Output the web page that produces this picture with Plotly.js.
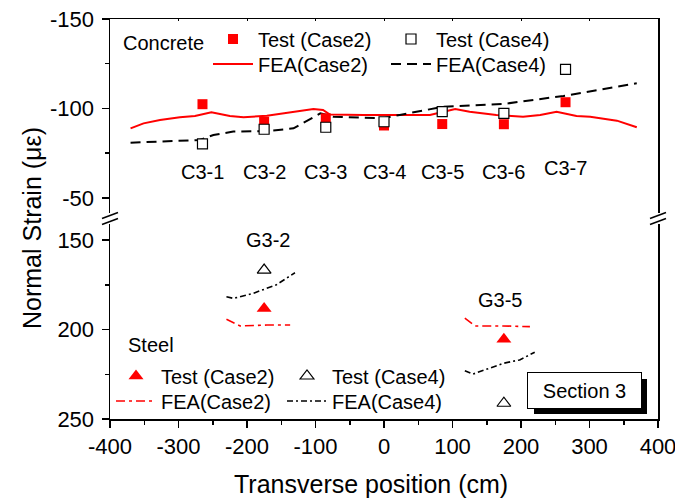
<!DOCTYPE html>
<html>
<head>
<meta charset="utf-8">
<script src="https://cdn.plot.ly/plotly-3.0.1.min.js"></script>
<style>html,body{margin:0;padding:0;background:#fff;}#chart{width:675px;height:500px;}</style>
</head>
<body>
<div id="chart"></div>
<script>
// ---- Data ----
var gaugeX      = [-265, -175, -85, 0, 85, 175, 265];
var gaugeNames  = ['C3-1', 'C3-2', 'C3-3', 'C3-4', 'C3-5', 'C3-6', 'C3-7'];
var gaugeLabelY = [-64.5, -64.5, -64.5, -64.5, -64.5, -64.5, -66.8];
var concTest2   = [-102.4, -92.6, -94.5, -90.5, -91.3, -91.2, -103.5];
var concTest4   = [-80.2, -88.4, -89.5, -92.6, -98.2, -97.3, -121.9];

var feaC2X = [-370, -351, -327, -298, -276, -252, -225, -205, -171, -132, -103, -89, -79, -30, 18, 67, 104, 125, 164, 203, 228, 252, 281, 301, 340, 369];
var feaC2Y = [-88.9, -91.7, -93.6, -95.1, -95.8, -97.9, -95.8, -95.1, -96.0, -97.9, -99.7, -99.2, -96.6, -96.4, -96.4, -96.4, -99.7, -98.2, -96.4, -95.4, -96.4, -98.2, -95.8, -95.4, -93.2, -89.5];
var feaC4X = [-370, -269, -249, -220, -171, -132, -93, -74, -1, 23, 87, 174, 262, 369];
var feaC4Y = [-80.9, -82.4, -85.2, -87.1, -87.4, -88.9, -97.3, -95.4, -94.5, -96.4, -101.0, -102.5, -107.0, -114.1];

var steelX      = [-175, 175];
var steelNames  = ['G3-2', 'G3-5'];
var steelLabelX = [-169, 169];
var steelLabelY = [150, 183.5];
var steelTest2  = [188.2, 205.5];
var steelTest4  = [166.8, 241.2];

var feaS2X = [-230, -210, -171, -137, null, 118, 133, 174, 213];
var feaS2Y = [194.3, 198.0, 197.5, 197.5, null, 193.7, 198.0, 198.0, 198.4];
var feaS4X = [-230, -220, -191, -157, -130, null, 118, 130, 174, 198, 220];
var feaS4Y = [181.7, 182.6, 179.8, 175.0, 168.3, null, 223.0, 224.9, 218.9, 217.0, 212.7];

var xTickVals = [-400, -300, -200, -100, 0, 100, 200, 300, 400];
var xTickText = ['-400', '-300', '-200', '-100', '0', '100', '200', '300', '400'];
var yTopVals  = [-150, -100, -50];
var yTopText  = ['-150', '-100', '-50'];
var yBotVals  = [150, 200, 250];
var yBotText  = ['150', '200', '250'];

// ---- pixel helpers for paper placement (plot area 110..658 x 19..419) ----
var L = 110, R = 17, T = 19, B = 81, W = 675, H = 500;
var PW = W - L - R, PH = H - T - B;
function xp(px) { return (px - L) / PW; }
function yp(py) { return (H - B - py) / PH; }

var FONT = 'Liberation Sans, Arial, Helvetica, sans-serif';

var traces = [
  { x: feaC2X, y: feaC2Y, xaxis: 'x2', yaxis: 'y', mode: 'lines', name: 'FEA(Case2)',
    line: { color: '#ff0000', width: 2 }, legend: 'legend2' },
  { x: feaC4X, y: feaC4Y, xaxis: 'x2', yaxis: 'y', mode: 'lines', name: 'FEA(Case4)',
    line: { color: '#000000', width: 2, dash: '10px,6px' }, legend: 'legend2' },
  { x: gaugeX, y: concTest2, xaxis: 'x2', yaxis: 'y', mode: 'markers', name: 'Test (Case2)',
    marker: { symbol: 'square', size: 10, color: '#ff0000' }, legend: 'legend' },
  { x: gaugeX, y: concTest4, xaxis: 'x2', yaxis: 'y', mode: 'markers', name: 'Test (Case4)',
    marker: { symbol: 'square', size: 10, color: '#ffffff', line: { color: '#000000', width: 1.2 } }, legend: 'legend' },

  { x: feaS2X, y: feaS2Y, xaxis: 'x', yaxis: 'y2', mode: 'lines', name: 'FEA(Case2)',
    line: { color: '#ff0000', width: 1.6, dash: '9px,4px,3px,4px' }, legend: 'legend4', connectgaps: false },
  { x: feaS4X, y: feaS4Y, xaxis: 'x', yaxis: 'y2', mode: 'lines', name: 'FEA(Case4)',
    line: { color: '#000000', width: 1.6, dash: '6px,3px,2px,3px' }, legend: 'legend4', connectgaps: false },
  { x: steelX, y: steelTest2, xaxis: 'x', yaxis: 'y2', mode: 'markers', name: 'Test (Case2)',
    marker: { symbol: 'triangle-up', size: 13, color: '#ff0000' }, legend: 'legend3' },
  { x: steelX, y: steelTest4, xaxis: 'x', yaxis: 'y2', mode: 'markers', name: 'Test (Case4)',
    marker: { symbol: 'triangle-up', size: 12, color: '#ffffff', line: { color: '#000000', width: 1.2 } }, legend: 'legend3' }
];

var TXT = { family: FONT, size: 20, color: '#000' };
var annotations = [];
for (var i = 0; i < gaugeNames.length; i++) {
  annotations.push({ xref: 'x2', yref: 'y', x: gaugeX[i], y: gaugeLabelY[i], text: gaugeNames[i],
    showarrow: false, font: TXT });
}
for (var j = 0; j < steelNames.length; j++) {
  annotations.push({ xref: 'x', yref: 'y2', x: steelLabelX[j], y: steelLabelY[j], text: steelNames[j],
    showarrow: false, font: TXT });
}
annotations.push({ xref: 'paper', yref: 'paper', x: xp(121), y: yp(43), xanchor: 'left', yanchor: 'middle',
  text: 'Concrete', showarrow: false, font: TXT });
annotations.push({ xref: 'paper', yref: 'paper', x: xp(126), y: yp(345), xanchor: 'left', yanchor: 'middle',
  text: 'Steel', showarrow: false, font: TXT });
annotations.push({ xref: 'paper', yref: 'paper', x: xp(584.5), y: yp(390.5), xanchor: 'center', yanchor: 'middle',
  text: 'Section 3', showarrow: false, width: 111, height: 33, bgcolor: '#ffffff',
  bordercolor: '#000000', borderwidth: 1, font: TXT });
annotations.push({ xref: 'paper', yref: 'paper', x: xp(32), y: yp(228), xanchor: 'center', yanchor: 'middle',
  text: 'Normal Strain (\u03bc\u03b5)', textangle: -90, showarrow: false, font: { family: FONT, size: 25, color: '#000' } });
annotations.push({ xref: 'paper', yref: 'paper', x: xp(371), y: yp(484), xanchor: 'center', yanchor: 'middle',
  text: 'Transverse position (cm)', showarrow: false, font: { family: FONT, size: 25, color: '#000' } });

function slash(cx, cy) {
  return { type: 'line', xref: 'paper', yref: 'paper', x0: xp(cx - 8), y0: yp(cy + 3), x1: xp(cx + 8), y1: yp(cy - 3),
    line: { color: '#000', width: 1.5 } };
}
var shapes = [
  slash(110, 215.5), slash(110, 221.5), slash(658, 215.5), slash(658, 221.5),
  { type: 'rect', xref: 'paper', yref: 'paper', x0: xp(534), x1: xp(647), y0: yp(414), y1: yp(379),
    fillcolor: '#000000', line: { width: 0 }, layer: 'above' }
];

var axFont = { family: FONT, size: 22, color: '#000' };
var legCommon = { orientation: 'h', xanchor: 'left', yanchor: 'middle', itemwidth: 40, bgcolor: 'rgba(0,0,0,0)',
  borderwidth: 0, font: { family: FONT, size: 20, color: '#000' }, itemclick: false, itemdoubleclick: false,
  entrywidthmode: 'pixels' };
function leg(px, py, ew) { var o = Object.assign({}, legCommon); o.x = xp(px); o.y = yp(py); o.entrywidth = ew; return o; }

var layout = {
  width: W, height: H,
  margin: { l: L, r: R, t: T, b: B, pad: 0 },
  paper_bgcolor: '#ffffff', plot_bgcolor: 'rgba(0,0,0,0)',
  font: { family: FONT, color: '#000' },
  showlegend: true,
  xaxis: { anchor: 'y2', domain: [0, 1], range: [-400, 400], tickvals: xTickVals, ticktext: xTickText,
    ticks: 'outside', ticklen: 7, tickwidth: 1.5, tickcolor: '#000', showline: true, linewidth: 1.5, linecolor: '#000',
    showgrid: false, zeroline: false, tickfont: axFont, ticklabeloverflow: 'allow',
    minor: { dtick: 50, tick0: 0, ticks: 'outside', ticklen: 4, tickwidth: 1.5, tickcolor: '#000', showgrid: false } },
  xaxis2: { anchor: 'y', side: 'top', matches: 'x', range: [-400, 400], showticklabels: false,
    tickvals: xTickVals, ticks: 'inside', ticklen: 2, tickwidth: 1, tickcolor: '#000',
    showline: true, linewidth: 1.5, linecolor: '#000', showgrid: false, zeroline: false },
  yaxis: { anchor: 'x2', domain: [yp(213), 1], range: [-41.6, -150], tickvals: yTopVals, ticktext: yTopText,
    ticks: 'outside', ticklen: 7, tickwidth: 1.5, tickcolor: '#000', showline: true, linewidth: 1.5, linecolor: '#000',
    mirror: true, showgrid: false, zeroline: false, tickfont: axFont, ticklabelstandoff: 3, ticklabeloverflow: 'allow',
    minor: { dtick: 25, tick0: 0, ticks: 'outside', ticklen: 4, tickwidth: 1.5, tickcolor: '#000', showgrid: false } },
  yaxis2: { anchor: 'x', domain: [0, yp(224)], range: [250, 141.05], tickvals: yBotVals, ticktext: yBotText,
    ticks: 'outside', ticklen: 7, tickwidth: 1.5, tickcolor: '#000', showline: true, linewidth: 1.5, linecolor: '#000',
    mirror: true, showgrid: false, zeroline: false, tickfont: axFont, ticklabelstandoff: 3, ticklabeloverflow: 'allow',
    minor: { dtick: 25, tick0: 0, ticks: 'outside', ticklen: 4, tickwidth: 1.5, tickcolor: '#000', showgrid: false } },
  legend:  leg(208, 39, 123),
  legend2: leg(208, 64, 123),
  legend3: leg(111, 376, 116),
  legend4: leg(111, 401, 116),
  annotations: annotations,
  shapes: shapes
};

Plotly.newPlot('chart', traces, layout, { staticPlot: true, displayModeBar: false });
</script>
</body>
</html>
